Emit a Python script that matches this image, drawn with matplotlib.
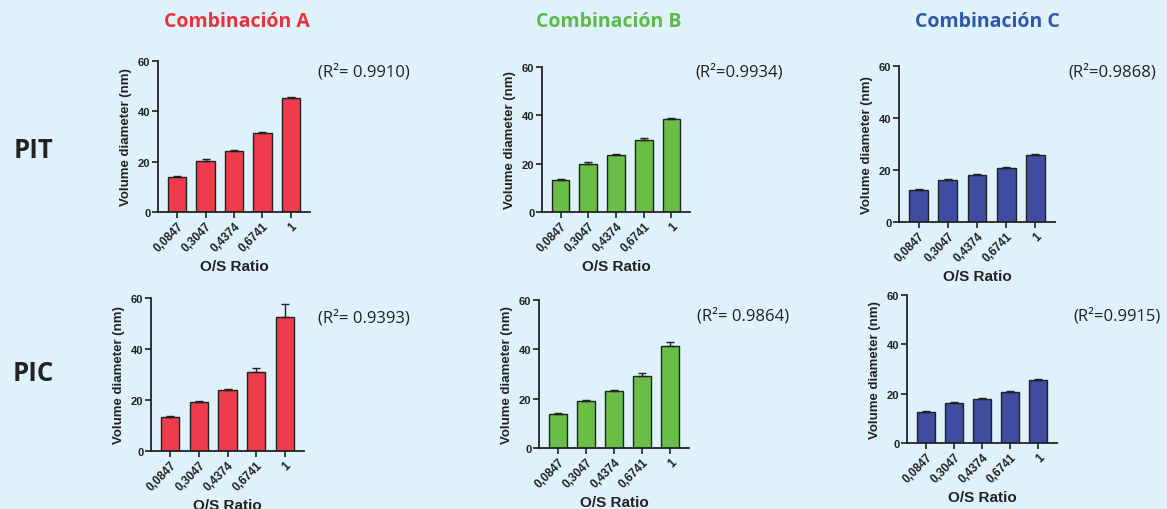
import numpy as np
import matplotlib.pyplot as plt

ratios = ['0,0847', '0,3047', '0,4374', '0,6741', '1']
combos = ['Combinación A', 'Combinación B', 'Combinación C']
rows = ['PIT', 'PIC']

# mean volume diameter (nm) and upper error, per row (PIT, PIC) and combination
a_pit = [13.9, 20.2, 24.2, 31.3, 45.2]
a_pit_err = [0.6, 0.7, 0.3, 0.6, 0.3]
a_pic = [13.5, 19.4, 24.1, 31.1, 52.6]
a_pic_err = [0.3, 0.3, 0.3, 1.6, 5.1]
b_pit = [13.4, 19.8, 23.4, 29.6, 38.4]
b_pit_err = [0.4, 0.7, 0.8, 1.2, 0.4]
b_pic = [13.7, 19.2, 23.0, 29.3, 41.3]
b_pic_err = [0.5, 0.3, 0.5, 1.3, 1.5]
c_pit = [12.4, 16.3, 18.2, 20.9, 25.6]
c_pit_err = [0.3, 0.3, 0.4, 0.4, 0.5]
c_pic = [12.7, 16.3, 17.9, 20.8, 25.7]
c_pic_err = [0.3, 0.5, 0.4, 0.3, 0.4]
r2 = [['(R²= 0.9910)', '(R²=0.9934)', '(R²=0.9868)'],
      ['(R²= 0.9393)', '(R²= 0.9864)', '(R²=0.9915)']]

bg = '#dff1fa'
bar_colors = ['#ef3b4c', '#6abd45', '#3f4c9f']
title_colors = ['#e8323c', '#5cb94a', '#2f58a8']
dark = '#222222'

plt.rcParams['font.family'] = ['Liberation Sans', 'DejaVu Sans']

data = [[(a_pit, a_pit_err), (b_pit, b_pit_err), (c_pit, c_pit_err)],
        [(a_pic, a_pic_err), (b_pic, b_pic_err), (c_pic, c_pic_err)]]

# axes boxes in pixels: left, top(y of 60), right, bottom(y of 0)
W, H = 1167, 510
boxes = [[(158, 62, 310, 213), (542, 68, 690, 213), (899, 67, 1055, 223)],
         [(151, 299, 304, 452), (539, 301, 689, 449), (907, 296, 1057, 444)]]
r2_pos = [[(318, 72), (695, 72), (1068, 72)],
          [(318, 318), (697, 316), (1073, 316)]]

fig = plt.figure(figsize=(W / 100, H / 100), dpi=100, facecolor=bg)

for r in range(2):
    for c in range(3):
        l, t, rt, b = boxes[r][c]
        ax = fig.add_axes([l / W, 1 - b / H, (rt - l) / W, (b - t) / H])
        ax.set_facecolor(bg)
        vals, err = data[r][c]
        x = np.arange(len(ratios))
        ax.bar(x, vals, width=0.64, color=bar_colors[c], edgecolor=dark, linewidth=1.0,
               yerr=[np.zeros(len(err)), err], capsize=3,
               error_kw=dict(ecolor=dark, elinewidth=1.0, capthick=1.0))
        ax.set_xlim(-0.67, 4.67)
        ax.set_ylim(0, 60)
        ax.set_yticks([0, 20, 40, 60])
        ax.set_xticks(x)
        ax.set_xticklabels(ratios, rotation=45, ha='right', rotation_mode='anchor',
                           fontsize=8.5, fontweight='bold', color=dark)
        for lab in ax.get_yticklabels():
            lab.set_fontsize(8)
            lab.set_fontweight('bold')
            lab.set_color(dark)
        ax.spines[['top', 'right']].set_visible(False)
        for s in ['left', 'bottom']:
            ax.spines[s].set_color(dark)
            ax.spines[s].set_linewidth(1.3)
        ax.tick_params(direction='out', length=4, width=1.2, color=dark, pad=1.5)
        ax.set_ylabel('Volume diameter (nm)', fontsize=9.5, fontweight='bold',
                      color=dark, labelpad=4)
        ax.set_xlabel('O/S Ratio', fontsize=11, fontweight='bold', color=dark, labelpad=4)
        px, py = r2_pos[r][c]
        fig.text(px / W, 1 - py / H, r2[r][c], fontsize=12, family='Open Sans',
                 ha='left', va='center', color='#222222')

title_x = [237, 609, 987]
for c in range(3):
    fig.text(title_x[c] / W, 1 - 22 / H, combos[c], fontsize=14, fontweight='bold',
             family='Open Sans', color=title_colors[c], ha='center', va='center')

row_y = [151, 374]
for r in range(2):
    fig.text(33 / W, 1 - row_y[r] / H, rows[r], fontsize=18.5, fontweight='bold',
             family='Open Sans', color='#222222', ha='center', va='center')

fig.savefig('out.png', dpi=100, facecolor=bg)
